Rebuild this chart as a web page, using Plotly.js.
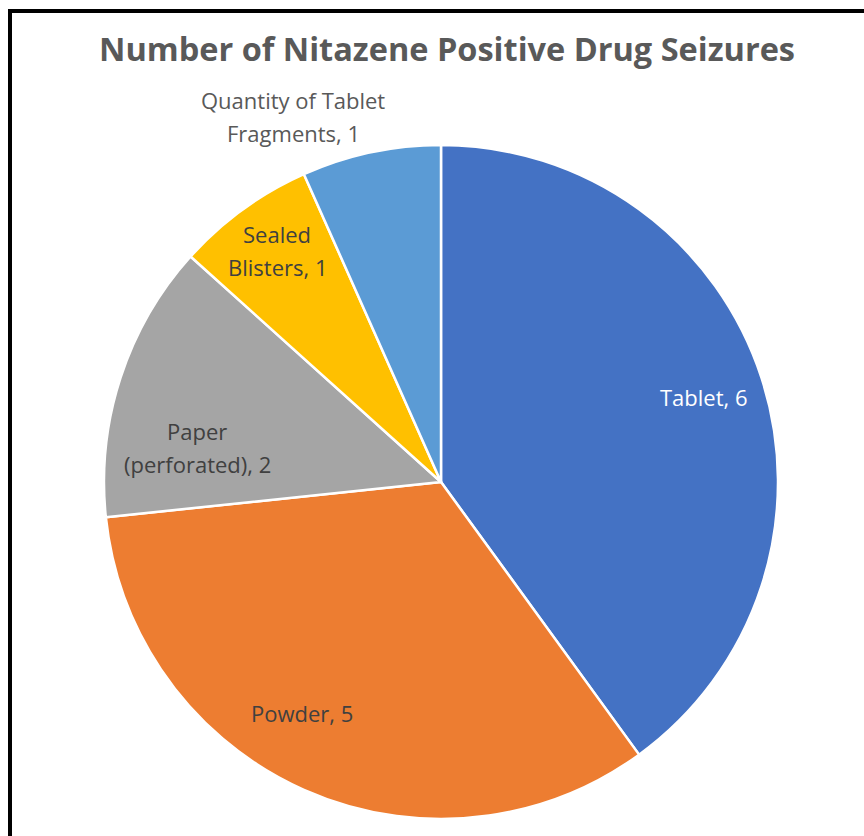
<!DOCTYPE html>
<html>
<head>
<meta charset="utf-8">
<script src="https://cdn.plot.ly/plotly-3.0.1.min.js"></script>
<style>
  html, body { margin: 0; padding: 0; background: #ffffff; }
  #chart { width: 864px; height: 836px; }
</style>
</head>
<body>
<div id="chart"></div>
<script>
// ---- data ----
const categories = ["Tablet", "Powder", "Paper (perforated)", "Sealed Blisters", "Quantity of Tablet Fragments"];
const values = [6, 5, 2, 1, 1];
// how each category name is broken over lines in its data label
const labelLines = [["Tablet"], ["Powder"], ["Paper", "(perforated)"], ["Sealed", "Blisters"], ["Quantity of Tablet", "Fragments"]];
const titleText = "Number of Nitazene Positive Drug Seizures";

// ---- styles ----
const colors = ["#4472C4", "#ED7D31", "#A5A5A5", "#FFC000", "#5B9BD5"];
const labelColors = ["#FFFFFF", "#404040", "#404040", "#404040", "#595959"];
const labelRadius = [0.82, 0.80, 0.73, 0.84, 1.17];   // fraction of pie radius
const labelAngleShift = [0, 7, -10, 0.7, -10];        // degrees from slice mid-angle
const W = 864, H = 836;
const cx = 441, cy = 482, R = 337;                    // pie geometry in px
const lineGap = 33;
const labelFont = { family: "Open Sans, Noto Sans, sans-serif", size: 22 };

const domain = {
  x: [(cx - R) / W, (cx + R) / W],
  y: [1 - (cy + R) / H, 1 - (cy - R) / H]
};

// label annotations placed from each slice's angle (computed from values)
const total = values.reduce((a, b) => a + b, 0);
const annotations = [];
let cum = 0;
values.forEach((v, i) => {
  const mid = (cum + v / 2) / total * 360;
  cum += v;
  const ang = (mid + labelAngleShift[i]) * Math.PI / 180;
  const px = cx + R * labelRadius[i] * Math.sin(ang);
  const py = cy - R * labelRadius[i] * Math.cos(ang);
  const lines = labelLines[i].slice();
  lines[lines.length - 1] = lines[lines.length - 1] + ", " + v;
  const n = lines.length;
  lines.forEach((ln, k) => {
    const off = (k - (n - 1) / 2) * lineGap;
    annotations.push({
      text: ln,
      xref: "paper", yref: "paper",
      x: px / W, y: 1 - (py + off) / H,
      xanchor: "center", yanchor: "middle",
      showarrow: false,
      font: Object.assign({}, labelFont, { color: labelColors[i] })
    });
  });
});

const trace = {
  type: "pie",
  labels: categories,
  values: values,
  sort: false,
  direction: "clockwise",
  rotation: 0,
  domain: domain,
  marker: { colors: colors, line: { color: "#FFFFFF", width: 2.5 } },
  textinfo: "none",
  hoverinfo: "label+value",
  showlegend: false
};

const layout = {
  width: W, height: H,
  margin: { l: 0, r: 0, t: 0, b: 0 },
  paper_bgcolor: "#FFFFFF",
  plot_bgcolor: "#FFFFFF",
  showlegend: false,
  title: {
    text: "<b>" + titleText + "</b>",
    font: { family: "Open Sans, Noto Sans, sans-serif", size: 32.5, color: "#595959" },
    x: 447 / W, xanchor: "center",
    y: 1 - 50 / H, yanchor: "middle",
    xref: "container", yref: "container"
  },
  annotations: annotations,
  shapes: [{
    type: "rect", xref: "paper", yref: "paper",
    x0: 10 / W, x1: 1.2, y0: -0.2, y1: 1 - 11 / H,
    line: { color: "#000000", width: 4 },
    fillcolor: "rgba(0,0,0,0)"
  }]
};

Plotly.newPlot("chart", [trace], layout, { displayModeBar: false, staticPlot: true });
</script>
</body>
</html>
